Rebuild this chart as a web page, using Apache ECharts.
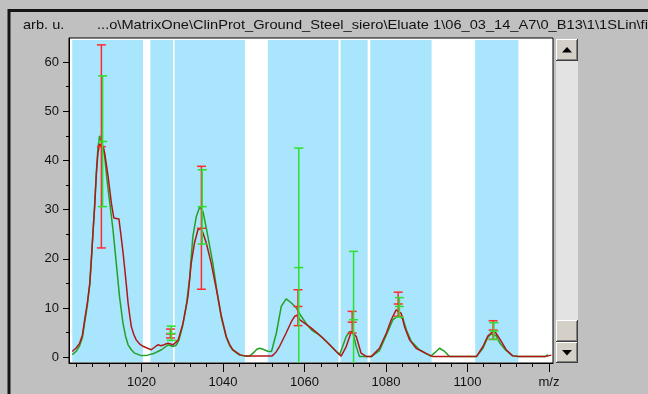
<!DOCTYPE html>
<html>
<head>
<meta charset="utf-8">
<script src="https://cdn.jsdelivr.net/npm/echarts@6/dist/echarts.min.js"></script>
<style>html,body{margin:0;padding:0;background:#c0c0c0;}#c{width:648px;height:394px;}</style>
</head>
<body>
<div id="c"></div>
<script>
// ---- data ----
const xTickValues = [1020, 1040, 1060, 1080, 1100, 1120];
const xTickLabels = ['1020', '1040', '1060', '1080', '1100', 'm/z'];
const xMinorTicks = [1004, 1008, 1012, 1016, 1024, 1028, 1032, 1036, 1044, 1048, 1052, 1056, 1064, 1068, 1072, 1076, 1084, 1088, 1092, 1096, 1104, 1108, 1112, 1116];
const yTickValues = [0, 10, 20, 30, 40, 50, 60];
const yMinorTicks = [5, 15, 25, 35, 45, 55];

const bandStarts = [1003.0, 1022.17, 1028.13, 1051.0, 1068.86, 1076.15, 1101.9];
const bandEnds   = [1020.36, 1027.72, 1045.38, 1068.37, 1075.5, 1091.2, 1112.5];

const redCurve = [
  [1003.0,1.15],[1004.0,1.9],[1004.8,2.8],[1005.5,4.5],[1006.05,7.6],[1006.7,11],[1007.3,15.0],[1007.7,20],
  [1008.1,25.5],[1008.5,30.6],[1008.9,37],[1009.3,41.5],[1009.7,43.3],[1010.15,43.5],[1010.6,42.8],[1010.96,41.5],
  [1011.4,39],[1011.8,36.7],[1012.2,34],[1012.6,31.3],[1013.2,28.3],[1014.45,28.1],[1015.0,24.5],[1015.5,21],
  [1015.9,17.8],[1016.3,14.5],[1016.7,11.0],[1017.1,8.5],[1017.5,6.2],[1018.1,4.6],[1018.7,3.5],[1019.5,2.7],
  [1020.35,2.2],[1021.5,1.8],[1022.4,1.5],[1023.2,2.0],[1024.0,2.5],[1024.8,2.3],[1025.5,2.5],[1026.5,2.85],
  [1027.7,2.5],[1028.4,3.0],[1029.0,3.5],[1030.2,6.9],[1031.4,12.3],[1032.2,19.1],[1033.0,23.2],[1033.85,25.9],
  [1034.7,26.2],[1035.9,23.2],[1037.1,19.1],[1038.4,13.7],[1039.6,8.3],[1040.8,4.2],[1041.6,2.6],[1042.4,1.5],
  [1044.1,0.5],[1045.5,0.2],[1052.0,0.2],[1053.0,1.0],[1053.9,2.2],[1055.5,4.9],[1056.8,7.25],[1057.6,8.3],
  [1058.2,8.5],[1058.8,7.6],[1060.0,6.9],[1061.7,5.9],[1063.7,4.5],[1065.75,2.85],[1067.8,1.15],[1069.0,0.2],
  [1070.25,2.15],[1071.5,5.2],[1071.9,5.55],[1072.7,4.2],[1073.9,0.8],[1075.2,0.1],[1076.4,0.1],[1078.4,1.8],
  [1080.1,4.9],[1081.3,7.6],[1082.5,9.6],[1083.75,8.9],[1084.55,6.2],[1085.8,3.5],[1087.4,1.8],[1089.9,0.7],
  [1091.5,0.1],[1097.2,0.1],[1097.6,0.35],[1098.0,0.1],[1102.2,0.1],[1103.8,2.15],[1105.0,4.3],[1106.25,5.2],
  [1107.0,4.9],[1108.3,3.2],[1109.5,1.5],[1111.1,0.25],[1112.5,0.1],[1119.0,0.1],[1120.6,0.4]
];
const greenCurve = [
  [1003.0,0.5],[1004.0,1.2],[1004.8,2.3],[1005.5,4.0],[1006.05,7.0],[1006.7,10.5],[1007.3,14.8],[1007.7,20],
  [1008.1,25.5],[1008.5,31],[1008.9,37.5],[1009.3,42.5],[1009.7,45.0],[1010.1,44.0],[1010.6,42.5],[1011.0,40.5],
  [1011.4,37],[1011.8,34],[1012.2,31.4],[1013.0,25.9],[1013.8,19.1],[1014.6,12.3],[1015.45,6.9],[1016.1,4.2],
  [1016.7,2.5],[1017.5,1.5],[1018.3,0.8],[1019.9,0.3],[1021.5,0.4],[1023.2,0.8],[1024.9,1.5],[1026.5,2.5],
  [1027.7,2.15],[1028.5,2.4],[1029.2,3.5],[1030.0,6.0],[1031.0,10.5],[1031.8,16],[1032.6,24.5],[1033.45,28.6],
  [1034.3,30.6],[1035.1,29.6],[1036.3,24.5],[1037.5,19.1],[1038.5,13.5],[1039.6,8.0],[1040.8,4.0],[1041.6,2.4],
  [1042.4,1.4],[1044.1,0.4],[1045.5,0.2],[1046.5,0.2],[1047.5,0.9],[1048.3,1.6],[1049.0,1.8],[1049.8,1.6],
  [1051.0,1.2],[1051.9,1.15],[1053.1,4.9],[1054.3,10.3],[1055.5,11.85],[1056.8,11.0],[1058.0,10.0],[1059.2,8.3],
  [1060.45,6.8],[1061.7,5.55],[1062.9,4.9],[1064.5,3.9],[1066.2,2.5],[1067.8,1.15],[1068.6,0.5],[1069.3,2.0],
  [1070.25,4.2],[1071.1,5.2],[1071.9,4.9],[1072.7,2.15],[1073.5,0.1],[1075.0,0.1],[1076.4,0.1],[1078.4,1.3],
  [1080.1,4.5],[1081.7,7.6],[1082.9,8.3],[1084.15,7.9],[1085.0,5.55],[1086.2,3.2],[1088.2,1.5],[1091.0,0.2],
  [1092.0,0.9],[1093.15,1.8],[1094.4,1.15],[1095.6,0.1],[1102.2,0.1],[1103.8,1.8],[1105.0,4.0],[1105.8,4.7],
  [1107.0,4.4],[1108.0,2.8],[1109.3,1.5],[1111.0,0.3],[1112.5,0.1],[1119.0,0.1],[1119.8,0.5]
];
// error bars: [m/z, low, mean, high]
const redErrors = [
  [1010.15, 22.2, 42.8, 63.5],
  [1027.1, 3.9, 4.7, 5.7],
  [1034.7, 13.8, 26.2, 38.8],
  [1058.4, 6.4, 10.3, 13.7],
  [1071.7, 4.9, 7.1, 9.3],
  [1083.0, 8.3, 10.8, 13.2],
  [1106.3, 3.6, 5.5, 7.4]
];
const greenErrors = [
  [1010.45, 30.6, 43.85, 57.2],
  [1027.3, 3.4, 4.8, 6.3],
  [1034.9, 23.0, 30.6, 38.1],
  [1058.6, -6.1, 18.2, 42.5],
  [1072.05, -6.3, 7.6, 21.5],
  [1083.3, 8.1, 10.3, 12.1],
  [1106.5, 3.6, 5.3, 7.0]
];
const yLabel = 'arb. u.';
const pathLabel = '...o\\MatrixOne\\ClinProt_Ground_Steel_siero\\Eluate 1\\06_03_14_A7\\0_B13\\1\\1SLin\\fid';

// ---- chart ----
const chart = echarts.init(document.getElementById('c'), null, {renderer: 'canvas'});
const FONT = 'Liberation Sans, Arial, sans-serif';
const X_MIN = 1002.2, X_MAX = 1121, Y_MIN = -1.2, Y_MAX = 64.9;

function errRender(color) {
  return function (params, api) {
    const x = api.value(0);
    const pLo = api.coord([x, api.value(1)]);
    const pMid = api.coord([x, api.value(2)]);
    const pHi = api.coord([x, api.value(3)]);
    const hw = 4.5;
    const st = {stroke: color, lineWidth: 1.5, fill: null};
    const cap = p => ({type: 'line', shape: {x1: p[0] - hw, y1: p[1], x2: p[0] + hw, y2: p[1]}, style: st});
    return {type: 'group', children: [
      {type: 'line', shape: {x1: pLo[0], y1: pLo[1], x2: pHi[0], y2: pHi[1]}, style: st},
      cap(pLo), cap(pMid), cap(pHi)
    ]};
  };
}

function button(x, y, w, h) {
  return [
    {type: 'rect', shape: {x: x, y: y, width: w, height: h}, style: {fill: '#d4d0c8'}},
    {type: 'line', shape: {x1: x, y1: y + 0.5, x2: x + w - 1, y2: y + 0.5}, style: {stroke: '#ffffff', lineWidth: 1}},
    {type: 'line', shape: {x1: x + 0.5, y1: y, x2: x + 0.5, y2: y + h - 1}, style: {stroke: '#ffffff', lineWidth: 1}},
    {type: 'line', shape: {x1: x, y1: y + h - 0.5, x2: x + w, y2: y + h - 0.5}, style: {stroke: '#404040', lineWidth: 1}},
    {type: 'line', shape: {x1: x + w - 0.5, y1: y, x2: x + w - 0.5, y2: y + h}, style: {stroke: '#404040', lineWidth: 1}},
    {type: 'line', shape: {x1: x + 1, y1: y + h - 1.5, x2: x + w - 1, y2: y + h - 1.5}, style: {stroke: '#808080', lineWidth: 1}},
    {type: 'line', shape: {x1: x + w - 1.5, y1: y + 1, x2: x + w - 1.5, y2: y + h - 1}, style: {stroke: '#808080', lineWidth: 1}}
  ];
}

const graphics = [
  {type: 'rect', shape: {x: 9, y: 10.5, width: 900, height: 700}, style: {fill: null, stroke: '#151515', lineWidth: 3}, z: 10},
  {type: 'text', x: 23, y: 25, style: {text: yLabel, font: '13px ' + FONT, fill: '#111', textVerticalAlign: 'middle'}, scaleX: 1.12, z: 10},
  {type: 'text', x: 97, y: 25, style: {text: pathLabel, font: '13px ' + FONT, fill: '#111', textVerticalAlign: 'middle'}, scaleX: 1.126, z: 10},
  {type: 'rect', shape: {x: 556, y: 61, width: 22, height: 259}, style: {fill: '#e3e3e3'}, z: 10}
].concat(button(556, 39, 22, 22), button(556, 320, 22, 22), button(556, 342, 22, 21)).map(g => Object.assign({z: 10}, g));
graphics.push({type: 'polygon', shape: {points: [[562, 52.5], [572, 52.5], [567, 47]]}, style: {fill: '#000'}, z: 11});
graphics.push({type: 'polygon', shape: {points: [[562, 350], [572, 350], [567, 355.5]]}, style: {fill: '#000'}, z: 11});

const bandData = bandStarts.map((s, i) => [{xAxis: s, yAxis: 64.5}, {xAxis: bandEnds[i], yAxis: -1.0}]);

const axisText = {color: '#111', fontSize: 13, fontFamily: FONT};

chart.setOption({
  backgroundColor: '#c0c0c0',
  animation: false,
  grid: {left: 69, right: 95, top: 38, bottom: 31, show: true, backgroundColor: '#ffffff', borderColor: '#000', borderWidth: 1},
  xAxis: [
    {type: 'value', min: X_MIN, max: X_MAX, position: 'bottom',
     axisLine: {show: true, onZero: false, lineStyle: {color: '#000', width: 1}},
     axisTick: {show: true, length: 9, customValues: xTickValues, lineStyle: {color: '#000'}},
     axisLabel: {show: true, margin: 13, customValues: xTickValues, formatter: v => xTickLabels[xTickValues.indexOf(Math.round(v))] || '', ...axisText},
     splitLine: {show: false}},
    {type: 'value', min: X_MIN, max: X_MAX, position: 'bottom',
     axisLine: {show: false, onZero: false},
     axisTick: {show: true, length: 4, customValues: xMinorTicks, lineStyle: {color: '#000'}},
     axisLabel: {show: false}, splitLine: {show: false}}
  ],
  yAxis: [
    {type: 'value', min: Y_MIN, max: Y_MAX, position: 'left',
     axisLine: {show: true, onZero: false, lineStyle: {color: '#000', width: 1}},
     axisTick: {show: true, length: 6, customValues: yTickValues, lineStyle: {color: '#000'}},
     axisLabel: {show: true, margin: 10, customValues: yTickValues, ...axisText},
     splitLine: {show: false}},
    {type: 'value', min: Y_MIN, max: Y_MAX, position: 'left',
     axisLine: {show: false, onZero: false},
     axisTick: {show: true, length: 3, customValues: yMinorTicks, lineStyle: {color: '#000'}},
     axisLabel: {show: false}, splitLine: {show: false}}
  ],
  series: [
    {type: 'line', name: 'bands', data: [[X_MIN, -5]], showSymbol: false, lineStyle: {opacity: 0}, silent: true, z: 1,
     markArea: {silent: true, itemStyle: {color: '#a9e5fc', opacity: 1}, data: bandData}},
    {type: 'line', name: 'green', data: greenCurve, showSymbol: false, symbol: 'none', z: 2,
     lineStyle: {color: '#24a024', width: 1.5}},
    {type: 'line', name: 'red', data: redCurve, showSymbol: false, symbol: 'none', z: 3,
     lineStyle: {color: '#b01818', width: 1.5}},
    {type: 'custom', name: 'red err', data: redErrors, renderItem: errRender('#ff2a2a'), clip: true, z: 4,
     encode: {x: 0, y: [1, 2, 3]}},
    {type: 'custom', name: 'green err', data: greenErrors, renderItem: errRender('#2ee02e'), clip: true, z: 5,
     encode: {x: 0, y: [1, 2, 3]}}
  ],
  graphic: graphics
});
</script>
</body>
</html>
